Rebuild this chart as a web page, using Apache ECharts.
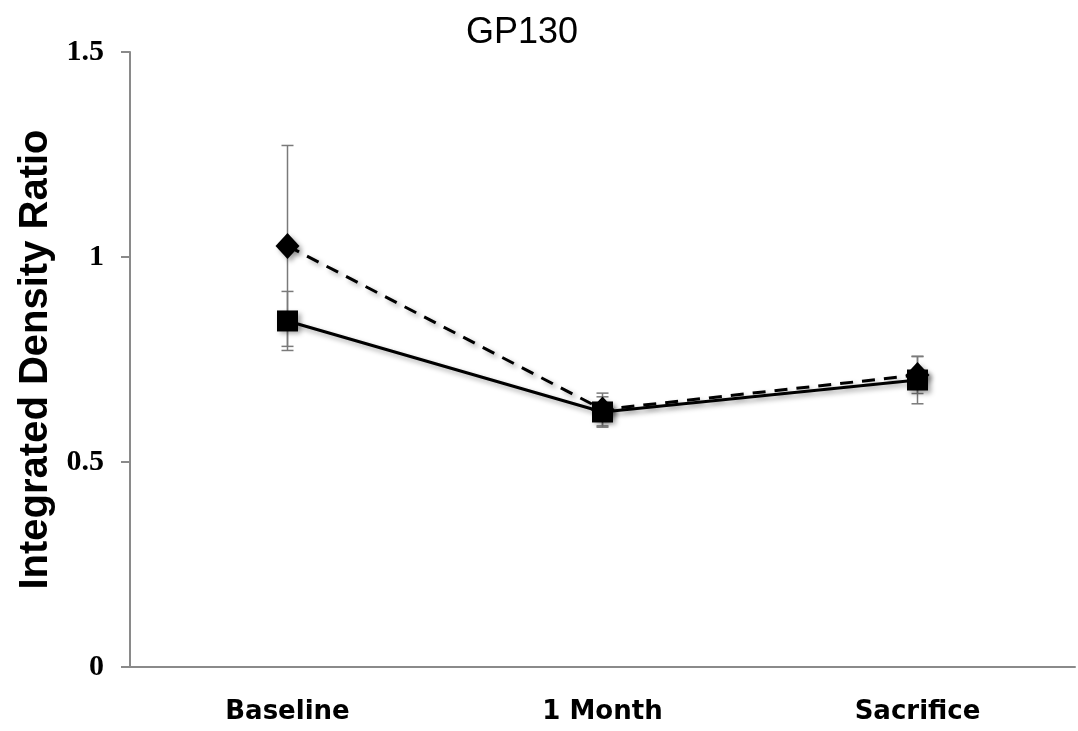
<!DOCTYPE html>
<html><head><meta charset="utf-8">
<script src="https://cdn.jsdelivr.net/npm/echarts@6/dist/echarts.min.js"></script>
<style>html,body{margin:0;padding:0;background:#fff}#c{width:1078px;height:731px}</style>
</head><body><div id="c"></div>
<script>
var categories = ['Baseline', '1 Month', 'Sacrifice'];
var dashedValues = [1.027, 0.628, 0.712];
var dashedErr = [0.245, 0.04, 0.045];
var solidValues = [0.844, 0.622, 0.700];
var solidErr = [0.072, 0.037, 0.058];
var yTicks = [0, 0.5, 1, 1.5];

function errData(vals, errs) {
  return vals.map(function (v, i) { return [i, v - errs[i], v + errs[i]]; });
}
function errRender(params, api) {
  var x = api.value(0);
  var lo = api.coord([x, api.value(1)]);
  var hi = api.coord([x, api.value(2)]);
  var w = 6;
  var st = { stroke: '#7a7a7a', lineWidth: 1.5 };
  return { type: 'group', children: [
    { type: 'line', shape: { x1: lo[0], y1: lo[1], x2: hi[0], y2: hi[1] }, style: st },
    { type: 'line', shape: { x1: lo[0] - w, y1: lo[1], x2: lo[0] + w, y2: lo[1] }, style: st },
    { type: 'line', shape: { x1: hi[0] - w, y1: hi[1], x2: hi[0] + w, y2: hi[1] }, style: st }
  ]};
}
var shadow = { shadowColor: 'rgba(0,0,0,0.35)', shadowBlur: 5, shadowOffsetX: 3, shadowOffsetY: 3 };

var chart = echarts.init(document.getElementById('c'));
chart.setOption({
  animation: false,
  title: { text: 'GP130', left: 517, top: 10, textAlign: 'center',
    textStyle: { fontFamily: 'Liberation Sans', fontWeight: 'normal', fontSize: 36, color: '#000' } },
  grid: { left: 130, right: 3, top: 52, bottom: 64 },
  xAxis: { type: 'category', data: categories, boundaryGap: true,
    axisLine: { lineStyle: { color: '#8a8a8a', width: 2 } },
    axisTick: { show: false },
    axisLabel: { margin: 32, fontFamily: 'DejaVu Sans', fontWeight: 'bold', fontSize: 26, color: '#000' } },
  yAxis: { type: 'value', min: 0, max: 1.5, interval: 0.5,
    name: 'Integrated Density Ratio', nameLocation: 'middle', nameGap: 72,
    nameTextStyle: { fontFamily: 'Liberation Sans', fontWeight: 'bold', fontSize: 40, color: '#000' },
    splitLine: { show: false },
    axisLine: { show: true, lineStyle: { color: '#8a8a8a', width: 2 } },
    axisTick: { show: true, length: 9, lineStyle: { color: '#8a8a8a', width: 2 } },
    axisLabel: { margin: 26, fontFamily: 'Liberation Serif', fontWeight: 'bold', fontSize: 30, color: '#000',
      formatter: function (v) { return yTicks.indexOf(v) >= 0 ? String(v) : ''; } } },
  series: [
    { type: 'custom', renderItem: errRender, data: errData(dashedValues, dashedErr), z: 1, silent: true },
    { type: 'custom', renderItem: errRender, data: errData(solidValues, solidErr), z: 1, silent: true },
    { type: 'line', data: dashedValues, z: 3, symbol: 'diamond', symbolSize: [24, 26],
      lineStyle: Object.assign({ color: '#000', width: 3, type: [13, 9] }, shadow),
      itemStyle: Object.assign({ color: '#000' }, shadow) },
    { type: 'line', data: solidValues, z: 4, symbol: 'rect', symbolSize: 21,
      lineStyle: Object.assign({ color: '#000', width: 3 }, shadow),
      itemStyle: Object.assign({ color: '#000' }, shadow) }
  ]
});
</script></body></html>
